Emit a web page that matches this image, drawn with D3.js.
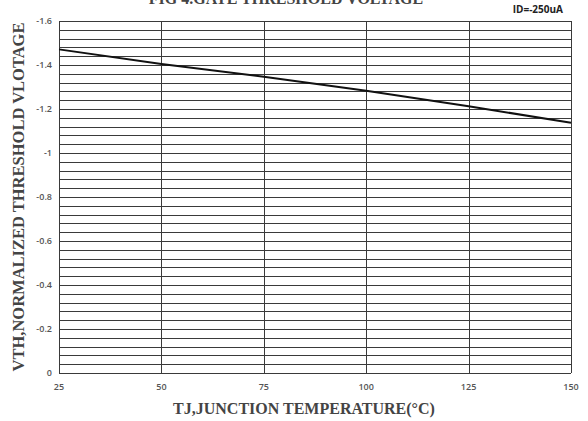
<!DOCTYPE html>
<html>
<head>
<meta charset="utf-8">
<script src="https://cdn.jsdelivr.net/npm/d3@7"></script>
<style>
  body { margin: 0; background: #fff; }
  .grid line { stroke: #3a3a3a; stroke-width: 1; shape-rendering: crispEdges; }
  .tick-label { font-family: "Open Sans", "Liberation Sans", sans-serif; font-size: 9px; fill: #555; font-weight: 600; }
  .axis-title { font-family: "Liberation Serif", "DejaVu Serif", serif; font-weight: bold; fill: #444; }
</style>
</head>
<body>
<svg id="chart" width="588" height="421"></svg>
<script>
// temperature (°C) vs normalized threshold voltage
var temps = [25, 50, 75, 100, 125, 150];
var vth = [-1.471, -1.405, -1.347, -1.283, -1.212, -1.138];
var xTicks = [25, 50, 75, 100, 125, 150];
var yTicks = [0, -0.2, -0.4, -0.6, -0.8, -1, -1.2, -1.4, -1.6];

var svg = d3.select("#chart")
    , margin = {top: 21, right: 17, bottom: 48, left: 59}
    , width = +svg.attr("width") - margin.left - margin.right
    , height = +svg.attr("height") - margin.top - margin.bottom
    , g = svg.append("g").attr("transform", "translate(" + margin.left + "," + margin.top + ")")
    ;

var x = d3.scaleLinear().domain([25, 150]).range([0, width]);
// 0 at the bottom, -1.6 at the top
var y = d3.scaleLinear().domain([0, -1.6]).range([height, 0]);

// minor horizontal grid every 0.04
var hLines = d3.range(0, 41).map(function(i) { return -i * 0.04; });

var grid = g.append("g").attr("class", "grid");

grid.selectAll("line.h")
    .data(hLines)
    .enter().append("line")
    .attr("class", "h")
    .attr("x1", 0)
    .attr("x2", width)
    .attr("y1", function(d) { return Math.round(y(d)) + 0.5; })
    .attr("y2", function(d) { return Math.round(y(d)) + 0.5; });

grid.selectAll("line.v")
    .data(xTicks)
    .enter().append("line")
    .attr("class", "v")
    .attr("x1", function(d) { return Math.round(x(d)) + 0.5; })
    .attr("x2", function(d) { return Math.round(x(d)) + 0.5; })
    .attr("y1", 0)
    .attr("y2", height);

// tick labels (plain hyphen, like the original)
g.selectAll("text.ylab")
    .data(yTicks)
    .enter().append("text")
    .attr("class", "tick-label")
    .attr("x", -7)
    .attr("y", function(d) { return y(d); })
    .attr("dy", "0.35em")
    .attr("text-anchor", "end")
    .text(function(d) { return String(+d.toFixed(1)); });

g.selectAll("text.xlab")
    .data(xTicks)
    .enter().append("text")
    .attr("class", "tick-label")
    .attr("x", function(d) { return x(d); })
    .attr("y", height + 17)
    .attr("text-anchor", "middle")
    .text(function(d) { return d; });

// data line
var line = d3.line()
    .x(function(d, i) { return x(temps[i]); })
    .y(function(d) { return y(d); });

g.append("path")
    .attr("d", line(vth))
    .attr("fill", "none")
    .attr("stroke", "#111")
    .attr("stroke-width", 2);

// titles
svg.append("text")
    .attr("class", "axis-title")
    .attr("x", 286)
    .attr("y", 4)
    .attr("text-anchor", "middle")
    .style("font-size", "16px")
    .text("FIG 4.GATE THRESHOLD VOLTAGE");

svg.append("text")
    .attr("x", 563)
    .attr("y", 13)
    .attr("text-anchor", "end")
    .style("font-family", "\"Open Sans\", \"Liberation Sans\", sans-serif")
    .style("font-size", "10px")
    .style("font-weight", "bold")
    .style("fill", "#222")
    .text("ID=-250uA");

svg.append("text")
    .attr("class", "axis-title")
    .attr("x", 304)
    .attr("y", 414)
    .attr("text-anchor", "middle")
    .style("font-size", "16px")
    .text("TJ,JUNCTION TEMPERATURE(°C)");

svg.append("text")
    .attr("class", "axis-title")
    .attr("transform", "translate(24," + 197 + ") rotate(-90)")
    .attr("text-anchor", "middle")
    .style("font-size", "16.5px")
    .text("VTH,NORMALIZED THRESHOLD VLOTAGE");
</script>
</body>
</html>
